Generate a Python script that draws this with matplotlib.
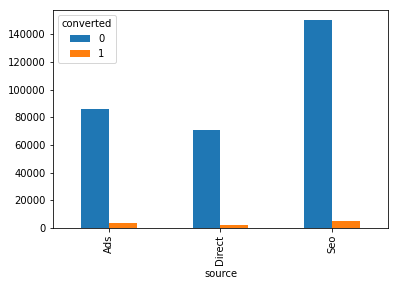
import matplotlib
matplotlib.use("Agg")
import matplotlib.pyplot as plt
import pandas as pd

sources = ["Ads", "Direct", "Seo"]
not_converted = [85800, 70500, 150000]
converted = [3600, 2200, 5300]

df = pd.DataFrame({0: not_converted, 1: converted}, index=pd.Index(sources, name="source"))
df.columns.name = "converted"

fig = plt.figure(figsize=(397/72, 286/72), dpi=72)
ax = fig.add_axes([53/397, 58/286, 335/397, 218/286])
df.plot.bar(ax=ax)
ax.legend(title="converted", loc="upper left")
fig.savefig("out.png", dpi=72)
